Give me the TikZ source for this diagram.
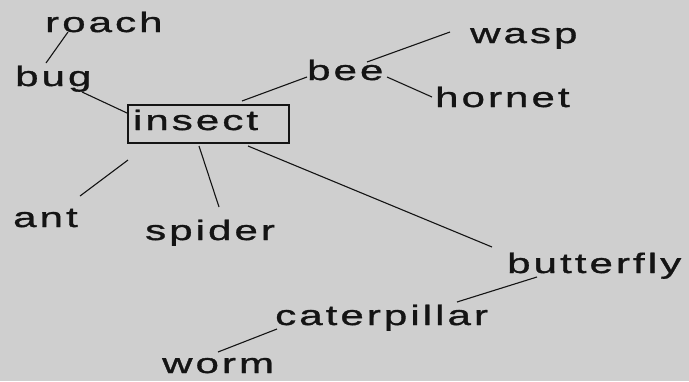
\documentclass[tikz,border=0pt]{standalone}
\usepackage{fontspec}
\newfontfamily\mapfont[FakeStretch=1.5,FakeBold=1.2,LetterSpace=11]{Liberation Sans}
\definecolor{paper}{HTML}{CFCFCF}
\definecolor{ink}{HTML}{141414}
\usepackage{tikz}

\begin{document}
\begin{tikzpicture}[x=1pt, y=-1pt,
  word/.style={font=\mapfont\fontsize{28}{32}\selectfont, text=ink, anchor=base west, inner sep=0pt},
  link/.style={draw=ink, line width=1.1pt},
]
\fill[paper] (0,0) rectangle (689,381);
\useasboundingbox (0,0) rectangle (689,381);
\node[word] (roach) at (45,32) {roach};
\node[word] (bug) at (15,86) {bug};
\node[word, draw=ink, line width=2pt, inner xsep=5pt, text width=151pt, align=left, text height=25pt, text depth=13pt] (insect) at (127,130) {insect};
\node[word] (bee) at (307,80) {bee};
\node[word] (wasp) at (470,43) {wasp};
\node[word] (hornet) at (435,107) {hornet};
\node[word] (ant) at (13,227) {ant};
\node[word] (spider) at (145,240) {spider};
\node[word] (butterfly) at (507,273) {butterfly};
\node[word] (caterpillar) at (275,325) {caterpillar};
\node[word] (worm) at (162,373) {worm};
\draw[link] ([xshift=23pt]roach.base west) -- ([xshift=31pt, yshift=23pt]bug.base west);
\draw[link] ([xshift=67pt, yshift=-6pt]bug.base west) -- ([yshift=11pt]insect.west);
\draw[link] ([xshift=115pt, yshift=3pt]insect.north west) -- ([yshift=3pt]bee.base west);
\draw[link] ([xshift=60pt, yshift=18pt]bee.base west) -- ([xshift=-20pt, yshift=11pt]wasp.base west);
\draw[link] ([xshift=80pt, yshift=3pt]bee.base west) -- ([xshift=-3pt, yshift=10pt]hornet.base west);
\draw[link] ([xshift=1pt, yshift=-16pt]insect.south west) -- ([xshift=67pt, yshift=31pt]ant.base west);
\draw[link] ([xshift=72pt, yshift=-2pt]insect.south west) -- ([xshift=74pt, yshift=33pt]spider.base west);
\draw[link] ([xshift=121pt, yshift=-2pt]insect.south west) -- ([xshift=-15pt, yshift=26pt]butterfly.base west);
\draw[link] ([xshift=30pt, yshift=-4pt]butterfly.base west) -- ([xshift=182pt, yshift=23pt]caterpillar.base west);
\draw[link] ([xshift=2pt, yshift=-4pt]caterpillar.base west) -- ([xshift=56pt, yshift=21pt]worm.base west);
\end{tikzpicture}
\end{document}
